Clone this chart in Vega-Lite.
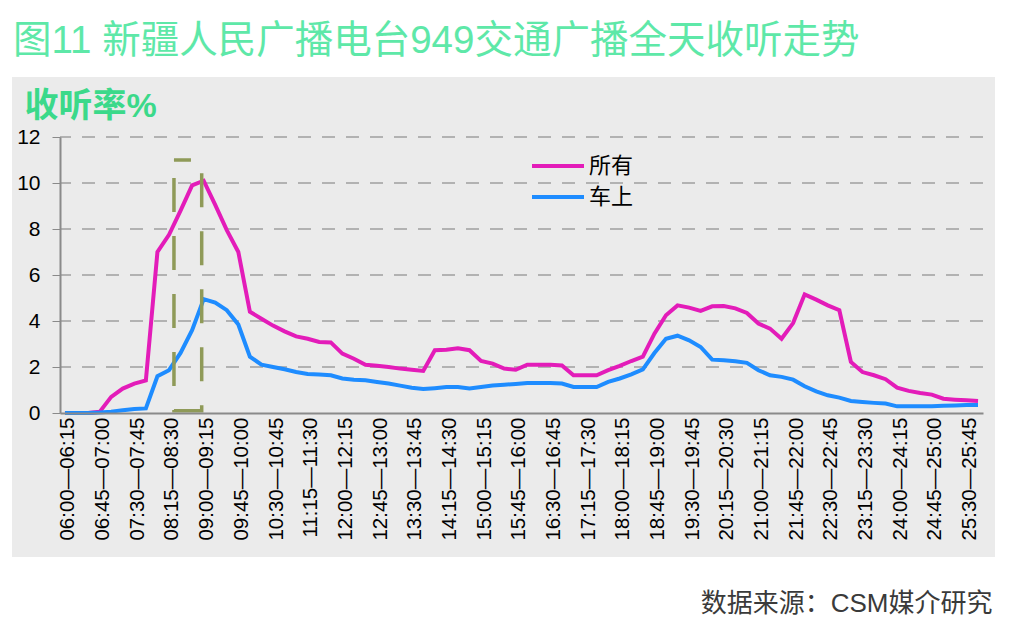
{
  "$schema": "https://vega.github.io/schema/vega-lite/v6.json",
  "width": 923,
  "height": 276,
  "autosize": "none",
  "padding": {"left": 60, "top": 137, "right": 33, "bottom": 219},
  "background": "white",
  "title": {
    "text": "图11 新疆人民广播电台949交通广播全天收听走势",
    "anchor": "start",
    "frame": "group",
    "dx": -47,
    "offset": 15,
    "fontSize": 38.5,
    "fontWeight": "normal",
    "color": "#5ee8a8",
    "font": "Liberation Sans, Noto Sans CJK SC"
  },
  "config": {
    "view": {"stroke": null},
    "font": "Liberation Sans, Noto Sans CJK SC",
    "axis": {"labelOverlap": false}
  },
  "datasets": {
    "grid": [{"g": 2}, {"g": 4}, {"g": 6}, {"g": 8}, {"g": 10}, {"g": 12}],
    "ratings": [
      {"slot": 0, "series": "所有", "rating": 0},
      {"slot": 1, "series": "所有", "rating": 0},
      {"slot": 2, "series": "所有", "rating": 0},
      {"slot": 3, "series": "所有", "rating": 0.05},
      {"slot": 4, "series": "所有", "rating": 0.7},
      {"slot": 5, "series": "所有", "rating": 1.06},
      {"slot": 6, "series": "所有", "rating": 1.28},
      {"slot": 7, "series": "所有", "rating": 1.42},
      {"slot": 8, "series": "所有", "rating": 7.0},
      {"slot": 9, "series": "所有", "rating": 7.75},
      {"slot": 10, "series": "所有", "rating": 8.8},
      {"slot": 11, "series": "所有", "rating": 9.9},
      {"slot": 12, "series": "所有", "rating": 10.1},
      {"slot": 13, "series": "所有", "rating": 9.05},
      {"slot": 14, "series": "所有", "rating": 7.95},
      {"slot": 15, "series": "所有", "rating": 7.0},
      {"slot": 16, "series": "所有", "rating": 4.4},
      {"slot": 17, "series": "所有", "rating": 4.1},
      {"slot": 18, "series": "所有", "rating": 3.8},
      {"slot": 19, "series": "所有", "rating": 3.55},
      {"slot": 20, "series": "所有", "rating": 3.33},
      {"slot": 21, "series": "所有", "rating": 3.23},
      {"slot": 22, "series": "所有", "rating": 3.09},
      {"slot": 23, "series": "所有", "rating": 3.07},
      {"slot": 24, "series": "所有", "rating": 2.58},
      {"slot": 25, "series": "所有", "rating": 2.36},
      {"slot": 26, "series": "所有", "rating": 2.1},
      {"slot": 27, "series": "所有", "rating": 2.05},
      {"slot": 28, "series": "所有", "rating": 2.0},
      {"slot": 29, "series": "所有", "rating": 1.93},
      {"slot": 30, "series": "所有", "rating": 1.88},
      {"slot": 31, "series": "所有", "rating": 1.83},
      {"slot": 32, "series": "所有", "rating": 2.73},
      {"slot": 33, "series": "所有", "rating": 2.75},
      {"slot": 34, "series": "所有", "rating": 2.81},
      {"slot": 35, "series": "所有", "rating": 2.73},
      {"slot": 36, "series": "所有", "rating": 2.26},
      {"slot": 37, "series": "所有", "rating": 2.15},
      {"slot": 38, "series": "所有", "rating": 1.93},
      {"slot": 39, "series": "所有", "rating": 1.88},
      {"slot": 40, "series": "所有", "rating": 2.1},
      {"slot": 41, "series": "所有", "rating": 2.1},
      {"slot": 42, "series": "所有", "rating": 2.1},
      {"slot": 43, "series": "所有", "rating": 2.07},
      {"slot": 44, "series": "所有", "rating": 1.64},
      {"slot": 45, "series": "所有", "rating": 1.64},
      {"slot": 46, "series": "所有", "rating": 1.64},
      {"slot": 47, "series": "所有", "rating": 1.86},
      {"slot": 48, "series": "所有", "rating": 2.05},
      {"slot": 49, "series": "所有", "rating": 2.26},
      {"slot": 50, "series": "所有", "rating": 2.45},
      {"slot": 51, "series": "所有", "rating": 3.45},
      {"slot": 52, "series": "所有", "rating": 4.25},
      {"slot": 53, "series": "所有", "rating": 4.68},
      {"slot": 54, "series": "所有", "rating": 4.58},
      {"slot": 55, "series": "所有", "rating": 4.44},
      {"slot": 56, "series": "所有", "rating": 4.64},
      {"slot": 57, "series": "所有", "rating": 4.65},
      {"slot": 58, "series": "所有", "rating": 4.55},
      {"slot": 59, "series": "所有", "rating": 4.35},
      {"slot": 60, "series": "所有", "rating": 3.89},
      {"slot": 61, "series": "所有", "rating": 3.67},
      {"slot": 62, "series": "所有", "rating": 3.23},
      {"slot": 63, "series": "所有", "rating": 3.91},
      {"slot": 64, "series": "所有", "rating": 5.16},
      {"slot": 65, "series": "所有", "rating": 4.93},
      {"slot": 66, "series": "所有", "rating": 4.68},
      {"slot": 67, "series": "所有", "rating": 4.47},
      {"slot": 68, "series": "所有", "rating": 2.22},
      {"slot": 69, "series": "所有", "rating": 1.78},
      {"slot": 70, "series": "所有", "rating": 1.64},
      {"slot": 71, "series": "所有", "rating": 1.47},
      {"slot": 72, "series": "所有", "rating": 1.1},
      {"slot": 73, "series": "所有", "rating": 0.96},
      {"slot": 74, "series": "所有", "rating": 0.87},
      {"slot": 75, "series": "所有", "rating": 0.8},
      {"slot": 76, "series": "所有", "rating": 0.62},
      {"slot": 77, "series": "所有", "rating": 0.58},
      {"slot": 78, "series": "所有", "rating": 0.55},
      {"slot": 79, "series": "所有", "rating": 0.52},
      {"slot": 0, "series": "车上", "rating": 0},
      {"slot": 1, "series": "车上", "rating": 0},
      {"slot": 2, "series": "车上", "rating": 0},
      {"slot": 3, "series": "车上", "rating": 0.02},
      {"slot": 4, "series": "车上", "rating": 0.06},
      {"slot": 5, "series": "车上", "rating": 0.12},
      {"slot": 6, "series": "车上", "rating": 0.17},
      {"slot": 7, "series": "车上", "rating": 0.2},
      {"slot": 8, "series": "车上", "rating": 1.6},
      {"slot": 9, "series": "车上", "rating": 1.86},
      {"slot": 10, "series": "车上", "rating": 2.61},
      {"slot": 11, "series": "车上", "rating": 3.6},
      {"slot": 12, "series": "车上", "rating": 4.95},
      {"slot": 13, "series": "车上", "rating": 4.8},
      {"slot": 14, "series": "车上", "rating": 4.47},
      {"slot": 15, "series": "车上", "rating": 3.85},
      {"slot": 16, "series": "车上", "rating": 2.45},
      {"slot": 17, "series": "车上", "rating": 2.1},
      {"slot": 18, "series": "车上", "rating": 2.0},
      {"slot": 19, "series": "车上", "rating": 1.9},
      {"slot": 20, "series": "车上", "rating": 1.78},
      {"slot": 21, "series": "车上", "rating": 1.7},
      {"slot": 22, "series": "车上", "rating": 1.67},
      {"slot": 23, "series": "车上", "rating": 1.64},
      {"slot": 24, "series": "车上", "rating": 1.5},
      {"slot": 25, "series": "车上", "rating": 1.45},
      {"slot": 26, "series": "车上", "rating": 1.42},
      {"slot": 27, "series": "车上", "rating": 1.35},
      {"slot": 28, "series": "车上", "rating": 1.28},
      {"slot": 29, "series": "车上", "rating": 1.19},
      {"slot": 30, "series": "车上", "rating": 1.1},
      {"slot": 31, "series": "车上", "rating": 1.04},
      {"slot": 32, "series": "车上", "rating": 1.08},
      {"slot": 33, "series": "车上", "rating": 1.13},
      {"slot": 34, "series": "车上", "rating": 1.13},
      {"slot": 35, "series": "车上", "rating": 1.07},
      {"slot": 36, "series": "车上", "rating": 1.13},
      {"slot": 37, "series": "车上", "rating": 1.2},
      {"slot": 38, "series": "车上", "rating": 1.23},
      {"slot": 39, "series": "车上", "rating": 1.26},
      {"slot": 40, "series": "车上", "rating": 1.3},
      {"slot": 41, "series": "车上", "rating": 1.3},
      {"slot": 42, "series": "车上", "rating": 1.3},
      {"slot": 43, "series": "车上", "rating": 1.28},
      {"slot": 44, "series": "车上", "rating": 1.13},
      {"slot": 45, "series": "车上", "rating": 1.13},
      {"slot": 46, "series": "车上", "rating": 1.13},
      {"slot": 47, "series": "车上", "rating": 1.35},
      {"slot": 48, "series": "车上", "rating": 1.5},
      {"slot": 49, "series": "车上", "rating": 1.68},
      {"slot": 50, "series": "车上", "rating": 1.9},
      {"slot": 51, "series": "车上", "rating": 2.61},
      {"slot": 52, "series": "车上", "rating": 3.23},
      {"slot": 53, "series": "车上", "rating": 3.36},
      {"slot": 54, "series": "车上", "rating": 3.16},
      {"slot": 55, "series": "车上", "rating": 2.87},
      {"slot": 56, "series": "车上", "rating": 2.32},
      {"slot": 57, "series": "车上", "rating": 2.29},
      {"slot": 58, "series": "车上", "rating": 2.25},
      {"slot": 59, "series": "车上", "rating": 2.18},
      {"slot": 60, "series": "车上", "rating": 1.86},
      {"slot": 61, "series": "车上", "rating": 1.64},
      {"slot": 62, "series": "车上", "rating": 1.57},
      {"slot": 63, "series": "车上", "rating": 1.45},
      {"slot": 64, "series": "车上", "rating": 1.16},
      {"slot": 65, "series": "车上", "rating": 0.94},
      {"slot": 66, "series": "车上", "rating": 0.77},
      {"slot": 67, "series": "车上", "rating": 0.67},
      {"slot": 68, "series": "车上", "rating": 0.52},
      {"slot": 69, "series": "车上", "rating": 0.48},
      {"slot": 70, "series": "车上", "rating": 0.44},
      {"slot": 71, "series": "车上", "rating": 0.41},
      {"slot": 72, "series": "车上", "rating": 0.29},
      {"slot": 73, "series": "车上", "rating": 0.29},
      {"slot": 74, "series": "车上", "rating": 0.29},
      {"slot": 75, "series": "车上", "rating": 0.29},
      {"slot": 76, "series": "车上", "rating": 0.32},
      {"slot": 77, "series": "车上", "rating": 0.33},
      {"slot": 78, "series": "车上", "rating": 0.35},
      {"slot": 79, "series": "车上", "rating": 0.35}
    ]
  },
  "layer": [
    {
      "data": {"values": [{}]},
      "mark": {"type": "rect", "color": "#ebebeb", "clip": false},
      "encoding": {
        "x": {"datum": -4.58, "type": "quantitative", "scale": {"domain": [-0.43, 79.43], "nice": false, "zero": false}},
        "x2": {"datum": 80.47},
        "y": {"datum": 14.61, "type": "quantitative", "scale": {"domain": [0, 12], "nice": false}},
        "y2": {"datum": -6.26}
      }
    },
    {
      "data": {"name": "grid"},
      "mark": {"type": "rule", "color": "#7a7a7a", "strokeWidth": 1.2, "strokeDash": [13, 11]},
      "encoding": {
        "y": {"field": "g", "type": "quantitative"}
      }
    },
    {
      "data": {"name": "ratings"},
      "mark": {"type": "line", "strokeWidth": 4},
      "encoding": {
        "x": {
          "field": "slot",
          "type": "quantitative",
          "axis": {
            "values": [0, 3, 6, 9, 12, 15, 18, 21, 24, 27, 30, 33, 36, 39, 42, 45, 48, 51, 54, 57, 60, 63, 66, 69, 72, 75, 78],
            "tickCount": 100,
            "labelExpr": "pad(toString(6+floor(datum.value/4)),2,'0','left')+':'+pad(toString((datum.value%4)*15),2,'0','left')+'—'+pad(toString(6+floor((datum.value+1)/4)),2,'0','left')+':'+pad(toString(((datum.value+1)%4)*15),2,'0','left')",
            "labelAngle": -90,
            "labelFontSize": 20.5,
            "labelColor": "black",
            "labelPadding": 4,
            "labelOffset": 3,
            "labelOverlap": false,
            "labelFlush": false,
            "ticks": false,
            "grid": false,
            "domainColor": "#8a8a8a",
            "domainWidth": 2,
            "title": "数据来源：CSM媒介研究",
            "titleFontSize": 26,
            "titleFontWeight": "normal",
            "titleColor": "#3a3a3a",
            "titleAnchor": "end",
            "titleAlign": "right",
            "titleBaseline": "top",
            "titleX": 932,
            "titleY": 177,
            "zindex": 1
          }
        },
        "y": {
          "field": "rating",
          "type": "quantitative",
          "axis": {
            "values": [0, 2, 4, 6, 8, 10, 12],
            "tickCount": 20,
            "format": "d",
            "labelFontSize": 21,
            "labelColor": "black",
            "labelPadding": 12,
            "tickSize": 8,
            "tickColor": "#8a8a8a",
            "domainColor": "#8a8a8a",
            "domainWidth": 2,
            "grid": false,
            "title": "收听率%",
            "titleAngle": 0,
            "titleAlign": "left",
            "titleBaseline": "top",
            "titleX": -36,
            "titleY": -48,
            "titleFontSize": 34,
            "titleFontWeight": "bold",
            "titleColor": "#3bd98a",
            "zindex": 1
          }
        },
        "color": {
          "field": "series",
          "type": "nominal",
          "scale": {"domain": ["所有", "车上"], "range": ["#e31cb9", "#1e8cff"]},
          "legend": {
            "orient": "none",
            "legendX": 486,
            "legendY": 17,
            "title": null,
            "symbolType": "M-2.6,0H2.6",
            "symbolSize": 400,
            "symbolStrokeWidth": 4,
            "labelFontSize": 22,
            "labelColor": "black",
            "labelOffset": 19,
            "rowPadding": 8
          }
        }
      }
    },
    {
      "data": {"values": [{}]},
      "mark": {"type": "rect", "filled": false, "stroke": "#8f9a58", "strokeWidth": 3.5, "strokeDash": [34, 24], "strokeDashOffset": 17, "clip": false},
      "encoding": {
        "x": {"datum": 9.43, "type": "quantitative"},
        "x2": {"datum": 11.83},
        "y": {"datum": 11, "type": "quantitative"},
        "y2": {"datum": 0.1}
      }
    }
  ]
}
